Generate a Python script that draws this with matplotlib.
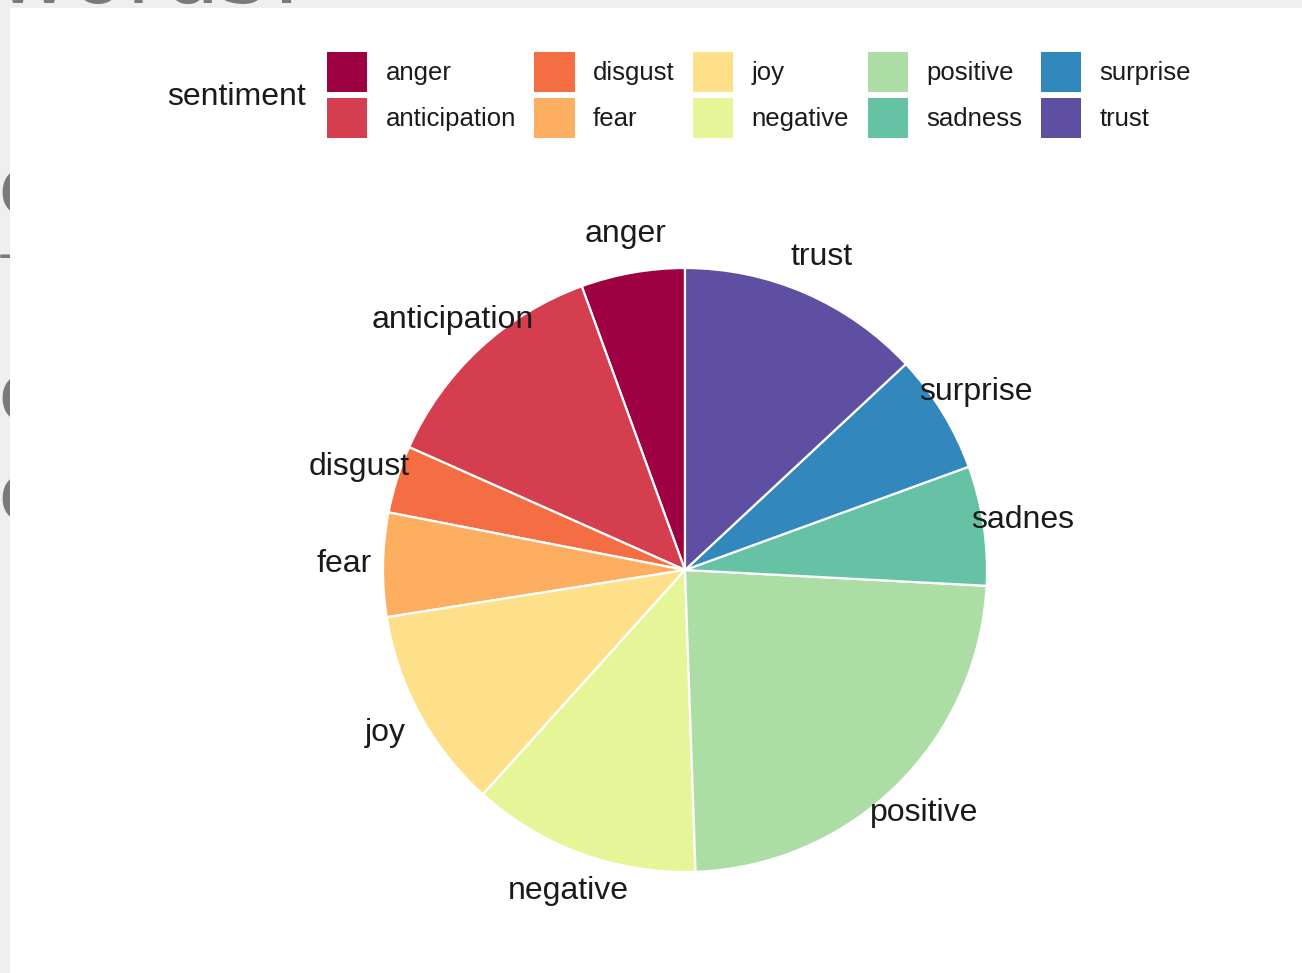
import matplotlib.pyplot as plt
from matplotlib.patches import Rectangle, Patch
import numpy as np

plt.rcParams['font.family'] = ['Liberation Sans', 'DejaVu Sans']

# sentiment counts
sentiments = ['anger', 'anticipation', 'disgust', 'fear', 'joy',
              'negative', 'positive', 'sadness', 'surprise', 'trust']
counts = [20, 46, 13, 20, 39, 44, 85, 23, 23, 47]
# labels as printed round the pie (the sadness one is cut off in the original)
pie_labels = ['anger', 'anticipation', 'disgust', 'fear', 'joy',
              'negative', 'positive', 'sadnes', 'surprise', 'trust']
colors = ['#9E0142', '#D53E4F', '#F46D43', '#FDAE61', '#FEE08B',
          '#E6F598', '#ABDDA4', '#66C2A5', '#3288BD', '#5E4FA2']

W, H = 1302, 973
fig = plt.figure(figsize=(W / 100, H / 100), dpi=100, facecolor='#efefef')

# bits of the page behind the plot panel
fig.text(-0.004, 1 - 3 / H, 'words!', fontsize=66, color='#7a7a7a',
         va='baseline', ha='left', family='DejaVu Sans', zorder=-3)
for txt, yy, fs in [('e', 192, 60), ('-', 257, 34), ('c', 398, 60), ('e', 498, 60)]:
    fig.text(-0.002, 1 - yy / H, txt, fontsize=fs, color='#7a7a7a',
             va='center', ha='left', family='DejaVu Sans', zorder=-3)

# white panel
fig.patches.append(Rectangle((10 / W, 0), 1, 1 - 8 / H, transform=fig.transFigure,
                             facecolor='white', edgecolor='none', zorder=-1))

# pie axes: centre at (685, 570) px, radius ~302 px
cx, cy, R = 685, 570, 302
half = 400
ax = fig.add_axes([(cx - half) / W, (H - cy - half) / H, 2 * half / W, 2 * half / H])
ax.set_facecolor('none')
wedges, _ = ax.pie(counts, colors=colors, startangle=90, counterclock=True,
                   radius=1, wedgeprops=dict(edgecolor='white', linewidth=1.6))
lim = half / R
ax.set_xlim(-lim, lim)
ax.set_ylim(-lim, lim)
ax.set_aspect('equal')
ax.axis('off')

for w, lab in zip(wedges, pie_labels):
    mid = np.deg2rad((w.theta1 + w.theta2) / 2)
    ax.text(1.13 * np.cos(mid), 1.13 * np.sin(mid), lab, ha='center', va='center',
            fontsize=23, color='#1a1a1a')

# legend on top, title to the left
fig.text(167 / W, 1 - 97 / H, 'sentiment', fontsize=23, color='#1a1a1a',
         ha='left', va='center')
handles = [Patch(facecolor=c, edgecolor='none') for c in colors]
fig.legend(handles, sentiments, ncol=5, loc='upper left',
           bbox_to_anchor=(327 / W, 1 - 52 / H), frameon=False,
           fontsize=18.5, handlelength=1.56, handleheight=2.02,
           labelspacing=0.23, handletextpad=0.72, columnspacing=0.72,
           borderpad=0, borderaxespad=0, labelcolor='#1a1a1a')

fig.savefig('out.png', dpi=100, facecolor=fig.get_facecolor())
